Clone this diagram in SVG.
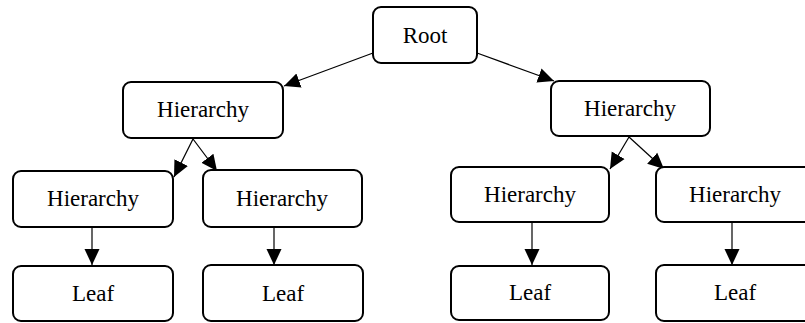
<svg xmlns="http://www.w3.org/2000/svg" width="805" height="323" viewBox="0 0 805 323">
  <style>
    .box { fill: #ffffff; stroke: #000000; stroke-width: 2; }
    .lbl { font-family: "Liberation Serif", "Times New Roman", Times, "DejaVu Serif", "Noto Serif", serif; font-size: 23px; fill: #000000; text-anchor: middle; }
    .edge { fill: none; stroke: #000000; stroke-width: 1.2; marker-end: url(#arrow); }
  </style>
  <defs>
    <marker id="arrow" markerUnits="userSpaceOnUse" markerWidth="18" markerHeight="18" viewBox="0 0 18 18" refX="16" refY="9" orient="auto">
      <path d="M0,1.5 L16,9 L0,16.5 Z" fill="#000000"/>
    </marker>
  </defs>

  <!-- connectors -->
  <g id="edges">
    <line class="edge" x1="373" y1="53" x2="284" y2="86"/>
    <line class="edge" x1="477" y1="53" x2="554" y2="81"/>
    <line class="edge" x1="193" y1="139" x2="174" y2="177"/>
    <line class="edge" x1="193" y1="139" x2="217" y2="171"/>
    <line class="edge" x1="629" y1="137" x2="610" y2="169"/>
    <line class="edge" x1="629" y1="137" x2="664" y2="169"/>
    <line class="edge" x1="92" y1="227" x2="92" y2="265"/>
    <line class="edge" x1="274" y1="227" x2="274" y2="265"/>
    <line class="edge" x1="532" y1="222" x2="532" y2="265"/>
    <line class="edge" x1="732" y1="222" x2="732" y2="265"/>
  </g>

  <!-- nodes -->
  <g id="root">
    <rect class="box" x="373" y="7" width="104" height="56" rx="8"/>
    <text class="lbl" x="425" y="43">Root</text>
  </g>
  <g id="hier-left">
    <rect class="box" x="123" y="82" width="160" height="56" rx="8"/>
    <text class="lbl" x="203" y="117">Hierarchy</text>
  </g>
  <g id="hier-right">
    <rect class="box" x="551" y="81" width="159" height="55" rx="8"/>
    <text class="lbl" x="630" y="116">Hierarchy</text>
  </g>
  <g id="hier-left-a">
    <rect class="box" x="13" y="171" width="160" height="56" rx="8"/>
    <text class="lbl" x="93" y="206">Hierarchy</text>
  </g>
  <g id="hier-left-b">
    <rect class="box" x="203" y="170" width="159" height="57" rx="8"/>
    <text class="lbl" x="282" y="206">Hierarchy</text>
  </g>
  <g id="hier-right-a">
    <rect class="box" x="451" y="167" width="158" height="55" rx="8"/>
    <text class="lbl" x="530" y="202">Hierarchy</text>
  </g>
  <g id="hier-right-b">
    <rect class="box" x="656" y="167" width="159" height="55" rx="8"/>
    <text class="lbl" x="735" y="202">Hierarchy</text>
  </g>
  <g id="leaf-left-a">
    <rect class="box" x="13" y="266" width="160" height="55" rx="8"/>
    <text class="lbl" x="93" y="301">Leaf</text>
  </g>
  <g id="leaf-left-b">
    <rect class="box" x="203" y="265" width="160" height="56" rx="8"/>
    <text class="lbl" x="283" y="301">Leaf</text>
  </g>
  <g id="leaf-right-a">
    <rect class="box" x="451" y="266" width="158" height="54" rx="8"/>
    <text class="lbl" x="530" y="300">Leaf</text>
  </g>
  <g id="leaf-right-b">
    <rect class="box" x="656" y="265" width="159" height="56" rx="8"/>
    <text class="lbl" x="735" y="300">Leaf</text>
  </g>
</svg>
